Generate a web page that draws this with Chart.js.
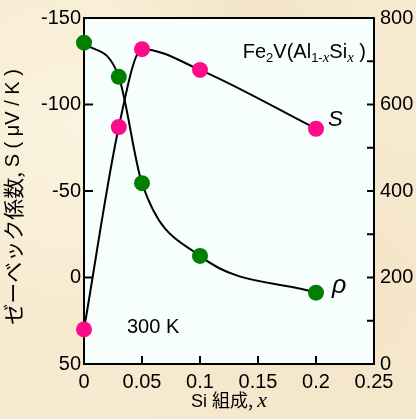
<!DOCTYPE html>
<html>
<head>
<meta charset="utf-8">
<script src="https://cdn.jsdelivr.net/npm/chart.js@4.4.1/dist/chart.umd.min.js"></script>
<style>
html, body { margin: 0; padding: 0; }
body {
    width: 416px; height: 419px; overflow: hidden;
    background-color: #F7EAD0;
    background-image:
        radial-gradient(ellipse at 20% 30%, rgba(255,250,235,0.6), rgba(255,250,235,0) 45%),
        radial-gradient(ellipse at 80% 70%, rgba(240,222,190,0.5), rgba(240,222,190,0) 50%),
        radial-gradient(ellipse at 60% 10%, rgba(236,218,185,0.4), rgba(236,218,185,0) 40%);
}
</style>
</head>
<body>
<canvas id="chart" width="416" height="419"></canvas>
<script>
// Si composition x
const siX = [0, 0.03, 0.05, 0.1, 0.2];
// Seebeck coefficient S (μV/K), left axis (reversed)
const seebeck = [30, -87, -132, -120, -86];
// resistivity rho, right axis
const resistivity = [743, 664, 418, 250, 165];

// tick values
const xTicks = [0, 0.05, 0.1, 0.15, 0.2, 0.25];
const leftTicks = [-150, -100, -50, 0, 50];
const rightMarks = [0, 100, 200, 300, 400, 500, 600, 700, 800];

const GREEN = '#007F00';
const PINK = '#FF0A88';
const SANS = "'Liberation Sans', Arial, sans-serif";
const SERIF = "'Liberation Serif', 'Times New Roman', serif";
const CJK = "'Noto Sans CJK JP', sans-serif";

const toPts = ys => siX.map((x, i) => ({ x: x, y: ys[i] }));

// draws a row of text pieces with different fonts
function drawPieces(ctx, pieces, x, y, align) {
    let total = 0;
    pieces.forEach(p => { ctx.font = p.f; p.w = ctx.measureText(p.t).width; total += p.w; });
    let cx = align === 'right' ? x - total : (align === 'center' ? x - total / 2 : x);
    pieces.forEach(p => {
        ctx.font = p.f;
        ctx.fillText(p.t, cx, y + (p.dy || 0));
        cx += p.w;
    });
}

const frame = {
    id: 'frame',
    beforeDraw(chart) {
        const { ctx, chartArea: a } = chart;
        ctx.save();
        ctx.fillStyle = '#F6FEFE';
        ctx.fillRect(a.left, a.top, a.right - a.left, a.bottom - a.top);
        ctx.restore();
    },
    beforeDatasetsDraw(chart) {
        const { ctx, chartArea: a, scales } = chart;
        ctx.save();
        ctx.strokeStyle = '#000';
        ctx.lineWidth = 2;
        ctx.strokeRect(a.left, a.top, a.right - a.left, a.bottom - a.top);
        ctx.beginPath();
        leftTicks.forEach(v => {
            const y = scales.yS.getPixelForValue(v);
            ctx.moveTo(a.left, y); ctx.lineTo(a.left + 9, y);
        });
        rightMarks.forEach(v => {
            const y = scales.yR.getPixelForValue(v);
            ctx.moveTo(a.right, y); ctx.lineTo(a.right - 7, y);
        });
        xTicks.forEach(v => {
            const x = scales.x.getPixelForValue(v);
            ctx.moveTo(x, a.bottom); ctx.lineTo(x, a.bottom - 8);
        });
        ctx.stroke();
        ctx.restore();
    },
    afterDraw(chart) {
        const { ctx } = chart;
        ctx.save();
        ctx.fillStyle = '#000';
        ctx.textBaseline = 'alphabetic';

        // compound name
        const main = '20px ' + SANS, sub = '13px ' + SANS, subI = 'italic 15px ' + SERIF;
        drawPieces(ctx, [
            { t: 'Fe', f: main }, { t: '2', f: sub, dy: 4 },
            { t: 'V(Al', f: main }, { t: '1-', f: sub, dy: 4 }, { t: 'x', f: subI, dy: 4 },
            { t: 'Si', f: main }, { t: 'x', f: subI, dy: 4 }, { t: ' )', f: main }
        ], 366, 58, 'right');

        ctx.font = 'italic 22px ' + SANS;
        ctx.fillText('S', 328, 126);
        ctx.font = 'italic 25px ' + SANS;
        ctx.fillText('ρ', 332, 293);
        ctx.font = '20px ' + SANS;
        ctx.fillText('300 K', 127, 333);

        // x axis title
        drawPieces(ctx, [
            { t: 'Si ', f: '18px ' + SANS },
            { t: '組成, ', f: '18px ' + CJK },
            { t: 'x', f: 'italic 22px ' + SERIF }
        ], 229, 407, 'center');

        // y axis title
        ctx.translate(13, 197);
        ctx.rotate(-Math.PI / 2);
        ctx.textBaseline = 'middle';
        drawPieces(ctx, [
            { t: 'ゼーベック係数, ', f: '21px ' + CJK },
            { t: 'S ( μV / K )', f: '20px ' + SANS }
        ], 0, 0, 'center');
        ctx.restore();
    }
};

const ctx1 = document.getElementById('chart').getContext('2d');
const chart1 = new Chart(ctx1, {
    type: 'scatter',
    data: {
        datasets: [
            {
                label: 'S curve', data: toPts(seebeck), yAxisID: 'yS',
                showLine: true, cubicInterpolationMode: 'monotone',
                borderColor: '#000', borderWidth: 2, pointRadius: 0, order: 3
            },
            {
                label: 'rho curve', data: toPts(resistivity), yAxisID: 'yR',
                showLine: true, cubicInterpolationMode: 'monotone',
                borderColor: '#000', borderWidth: 2, pointRadius: 0, order: 3
            },
            {
                label: 'S', data: toPts(seebeck), yAxisID: 'yS',
                pointRadius: 8, pointBackgroundColor: PINK, pointBorderWidth: 0, order: 1
            },
            {
                label: 'rho', data: toPts(resistivity), yAxisID: 'yR',
                pointRadius: 8, pointBackgroundColor: GREEN, pointBorderWidth: 0, order: 1
            }
        ]
    },
    options: {
        responsive: false,
        animation: false,
        layout: { padding: { top: 17, left: 0, right: 0, bottom: 0 } },
        plugins: { legend: { display: false }, tooltip: { enabled: false } },
        clip: false,
        scales: {
            x: {
                type: 'linear', position: 'bottom', min: 0, max: 0.25,
                afterBuildTicks: s => { s.ticks = xTicks.map(v => ({ value: v })); },
                afterFit: s => { s.height = 55; },
                grid: { display: false, drawTicks: false },
                border: { display: false },
                ticks: {
                    color: '#000', padding: 6,
                    font: { family: SANS, size: 20 },
                    callback: v => String(+v.toFixed(2))
                }
            },
            yS: {
                type: 'linear', position: 'left', reverse: true, min: -150, max: 50,
                afterBuildTicks: s => { s.ticks = leftTicks.map(v => ({ value: v })); },
                afterFit: s => { s.width = 84; },
                grid: { display: false, drawTicks: false },
                border: { display: false },
                ticks: { color: '#000', padding: 3, font: { family: SANS, size: 20 } }
            },
            yR: {
                type: 'linear', position: 'right', min: 0, max: 800,
                ticks: { stepSize: 200, color: '#000', padding: 6, font: { family: SANS, size: 20 } },
                afterFit: s => { s.width = 42; },
                grid: { display: false, drawTicks: false },
                border: { display: false }
            }
        }
    },
    plugins: [frame]
});
</script>
</body>
</html>
